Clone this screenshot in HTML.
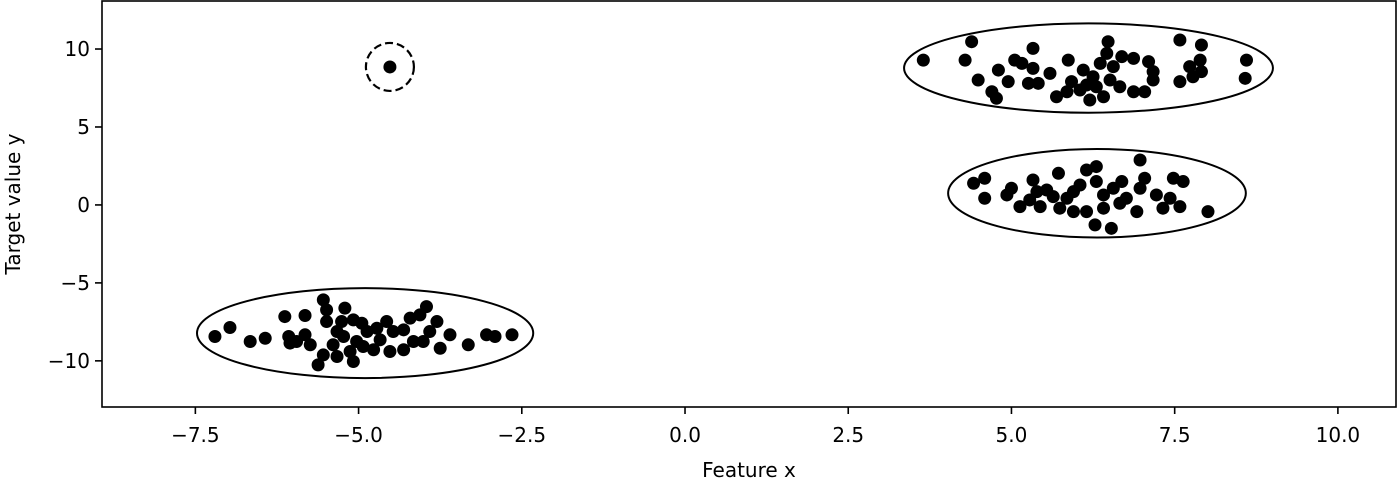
<!DOCTYPE html>
<html><head><meta charset="utf-8"><style>
html,body{margin:0;padding:0;background:#fff;}
svg text{font-family:"DejaVu Sans","Liberation Sans",sans-serif;fill:#000;}
</style></head><body>
<svg id="chart" width="1400" height="481" viewBox="0 0 1400 481" xmlns="http://www.w3.org/2000/svg">
<g id="marks"></g>
<g id="axes"></g>
</svg>
<script>
const xTicks=[-7.5,-5.0,-2.5,0.0,2.5,5.0,7.5,10.0];
const xTickLabels=["\u22127.5","\u22125.0","\u22122.5","0.0","2.5","5.0","7.5","10.0"];
const yTicks=[10,5,0,-5,-10];
const yTickLabels=["10","5","0","\u22125","\u221210"];
const cluster1X=[-7.20,-6.97,-6.66,-6.43,-6.13,-5.82,-6.07,-5.95,-5.82,-5.54,-5.49,-5.21,-5.49,-5.33,-5.26,-5.08,-4.95,-4.87,-4.72,-4.57,-4.47,-4.31,-4.21,-4.06,-3.96,-3.80,-3.91,-3.60,-4.01,-3.75,-4.31,-4.52,-4.77,-4.93,-5.13,-5.33,-5.54,-5.62,-5.08,-5.23,-5.03,-4.67,-4.16,-3.32,-3.04,-2.91,-2.65,-5.74,-6.05,-5.39];
const cluster1Y=[-8.44,-7.86,-8.76,-8.55,-7.16,-7.09,-8.44,-8.76,-8.33,-6.09,-6.73,-6.62,-7.48,-8.12,-7.48,-7.37,-7.59,-8.12,-7.91,-7.48,-8.12,-8.01,-7.26,-7.05,-6.52,-7.48,-8.12,-8.33,-8.76,-9.19,-9.29,-9.40,-9.29,-9.08,-9.40,-9.72,-9.62,-10.26,-10.04,-8.44,-8.76,-8.65,-8.76,-8.97,-8.33,-8.44,-8.33,-8.97,-8.86,-8.97];
const cluster2X=[3.65,4.39,4.29,4.49,4.70,4.77,4.80,4.95,5.05,5.16,5.33,5.33,5.26,5.41,5.59,5.87,5.92,5.69,5.85,6.05,6.20,6.10,6.25,6.36,6.48,6.46,6.56,6.51,6.69,6.87,6.66,6.87,7.04,7.10,7.17,7.17,7.58,7.91,7.89,7.73,7.78,7.91,7.58,8.60,8.58,6.30,6.41,6.15];
const cluster2Y=[9.29,10.47,9.29,8.01,7.26,6.84,8.65,7.91,9.29,9.08,10.04,8.76,7.80,7.80,8.44,9.29,7.91,6.94,7.26,7.37,6.73,8.65,8.22,9.08,10.47,9.72,8.87,8.01,9.51,9.40,7.58,7.26,7.26,9.19,8.55,8.01,10.58,10.26,9.29,8.87,8.22,8.55,7.91,9.29,8.12,7.58,6.94,7.69];
const cluster3X=[4.42,4.59,4.59,5.00,4.93,5.13,5.33,5.39,5.28,5.54,5.72,5.64,5.44,5.74,5.95,6.05,6.15,6.30,6.30,6.41,6.15,6.41,6.56,6.69,6.76,6.92,6.97,7.04,6.97,7.22,7.32,7.48,7.43,7.58,7.63,8.01,6.28,6.53,6.66,5.95,5.85];
const cluster3Y=[1.39,1.71,0.43,1.07,0.64,-0.11,1.60,0.85,0.32,0.96,2.03,0.53,-0.11,-0.21,0.85,1.28,2.24,2.46,1.50,0.64,-0.43,-0.21,1.07,1.50,0.43,-0.43,2.88,1.71,1.07,0.64,-0.21,1.71,0.43,-0.11,1.50,-0.43,-1.28,-1.50,0.11,-0.43,0.43];
const outlierX=[-4.52];
const outlierY=[8.85];
const ellipseCX=[-4.90,6.18,6.31];
const ellipseCY=[-8.22,8.78,0.75];
const ellipseW=[5.15,5.65,4.56];
const ellipseH=[5.77,5.73,5.68];

const NS="http://www.w3.org/2000/svg";
const L=102,R=1396,T=1,B=407;
const XMIN=-8.93,XMAX=10.89,YMIN=-12.96,YMAX=13.08;
function sx(v){return L+(v-XMIN)/(XMAX-XMIN)*(R-L);}
function sy(v){return B-(v-YMIN)/(YMAX-YMIN)*(B-T);}
function mk(tag,attrs,parent){const e=document.createElementNS(NS,tag);for(const k in attrs)e.setAttribute(k,attrs[k]);parent.appendChild(e);return e;}
const marks=document.getElementById('marks');
const axes=document.getElementById('axes');

function drawCluster(xs,ys,name){
  for(let i=0;i<xs.length;i++){
    const c=mk('circle',{cx:sx(xs[i]),cy:sy(ys[i]),r:6.5,fill:'#000'},marks);
    
    
  }
}
drawCluster(cluster1X,cluster1Y,'cluster-1');
drawCluster(cluster2X,cluster2Y,'cluster-2');
drawCluster(cluster3X,cluster3Y,'cluster-3');
drawCluster(outlierX,outlierY,'outlier');
for(let i=0;i<ellipseCX.length;i++){
  const rx=Math.abs(sx(ellipseW[i]/2)-sx(0)), ry=Math.abs(sy(ellipseH[i]/2)-sy(0));
  const e=mk('ellipse',{cx:sx(ellipseCX[i]),cy:sy(ellipseCY[i]),rx:rx,ry:ry,fill:'none',stroke:'#000','stroke-width':2},marks);
  
  
}
const oc=mk('circle',{cx:sx(outlierX[0]),cy:sy(outlierY[0]),r:24,fill:'none',stroke:'#000','stroke-width':2.2,'stroke-dasharray':'8,4'},marks);



const frame=mk('rect',{x:L,y:T,width:R-L,height:B-T,fill:'none',stroke:'#000','stroke-width':1.6},axes);


for(let i=0;i<xTicks.length;i++){
  const x=sx(xTicks[i]);
  const t=mk('line',{x1:x,x2:x,y1:B,y2:B+7,stroke:'#000','stroke-width':1.6},axes);
  
  
  const lb=mk('text',{x:x,y:B+35,'text-anchor':'middle','font-size':20},axes);
  lb.textContent=xTickLabels[i];
  
  
}
for(let i=0;i<yTicks.length;i++){
  const y=sy(yTicks[i]);
  const t=mk('line',{x1:L-7,x2:L,y1:y,y2:y,stroke:'#000','stroke-width':1.6},axes);
  
  
  const lb=mk('text',{x:L-12,y:y+7,'text-anchor':'end','font-size':20},axes);
  lb.textContent=yTickLabels[i];
  
  
}
const xl=mk('text',{x:(L+R)/2,y:477,'text-anchor':'middle','font-size':20},axes);
xl.textContent='Feature x';


const yl=mk('text',{x:0,y:0,'text-anchor':'middle','font-size':20,transform:'translate(20,'+((T+B)/2)+') rotate(-90)'},axes);
yl.textContent='Target value y';


</script>
</body></html>
